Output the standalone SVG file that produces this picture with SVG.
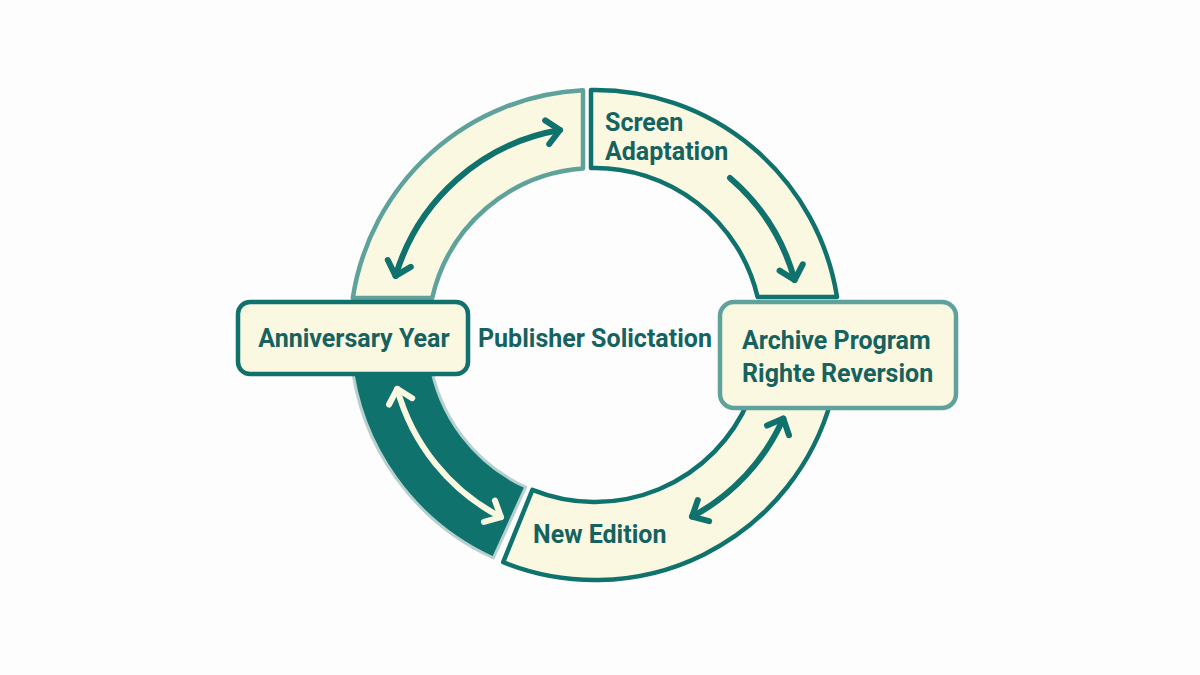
<svg xmlns="http://www.w3.org/2000/svg" width="1200" height="675" viewBox="0 0 1200 675">
  <style>
    .seg { fill: #fbf8e2; stroke-linejoin: round; }
    .dark { stroke: #0f726d; stroke-width: 4.5; }
    .light { stroke: #5fa29c; stroke-width: 4.5; }
    .lbl { font-family: Roboto, "Liberation Sans", sans-serif; font-weight: 700; font-size: 25px; fill: #15625e; }
    .arr { fill: none; stroke-width: 6; stroke-linecap: round; }
  </style>
  <defs>
    <marker id="hd" viewBox="-20 -15 25 30" refX="0" refY="0" markerWidth="25" markerHeight="30" markerUnits="userSpaceOnUse" orient="auto-start-reverse" overflow="visible">
      <path d="M -13 -12 L 0 0 L -13 12" fill="none" stroke="#0f726d" stroke-width="6" stroke-linecap="round" stroke-linejoin="round"/>
    </marker>
    <marker id="hc" viewBox="-20 -15 25 30" refX="0" refY="0" markerWidth="25" markerHeight="30" markerUnits="userSpaceOnUse" orient="auto-start-reverse" overflow="visible">
      <path d="M -13 -12 L 0 0 L -13 12" fill="none" stroke="#fbf8e2" stroke-width="6" stroke-linecap="round" stroke-linejoin="round"/>
    </marker>
  </defs>
  <rect width="1200" height="675" fill="#fdfdfd"/>

  <g id="seg-top-left">
    <path class="seg light" d="M 352.8 298 A 245 245 0 0 1 583 90.3 L 583 168.4 A 167 167 0 0 0 432.2 298 Z"/>
  </g>
  <g id="seg-screen-adaptation">
    <path class="seg dark" d="M 591 90 A 245 245 0 0 1 837 297 L 757.6 297 A 167 167 0 0 0 591 168 Z"/>
    <text class="lbl" x="605" y="131">Screen</text>
    <text class="lbl" x="605" y="160">Adaptation</text>
  </g>
  <g id="seg-new-edition">
    <path class="seg dark" d="M 831.2 400 A 245 245 0 0 1 503.2 562.2 L 532.4 489.8 A 167 167 0 0 0 748.8 400 Z"/>
    <text class="lbl" x="533" y="543">New Edition</text>
  </g>
  <g id="seg-dark">
    <path d="M 351.3 360 A 245 245 0 0 0 493.4 558 L 525.7 487 A 167 167 0 0 1 429.9 360 Z" fill="#0f726d" stroke="#b5d0ce" stroke-width="3" stroke-linejoin="round"/>
  </g>

  <g id="connectors">
    <path class="arr" stroke="#0f726d" d="M 395.6 275.9 A 208 208 0 0 1 560 130" marker-start="url(#hd)" marker-end="url(#hd)"/>
    <path class="arr" stroke="#0f726d" d="M 730 178 A 207 207 0 0 1 794.6 280" marker-end="url(#hd)"/>
    <path class="arr" stroke="#0f726d" d="M 692 516.7 A 206 206 0 0 0 783.3 418.5" marker-start="url(#hd)" marker-end="url(#hd)"/>
    <path class="arr" stroke="#fbf8e2" d="M 397.2 388.8 A 205 205 0 0 0 501 517.2" marker-start="url(#hc)" marker-end="url(#hc)"/>
  </g>

  <g id="node-anniversary">
    <rect x="238" y="302" width="230" height="72" rx="12" class="seg dark"/>
    <text class="lbl" x="354" y="347" text-anchor="middle">Anniversary Year</text>
  </g>
  <g id="node-publisher">
    <text class="lbl" x="478" y="347">Publisher Solictation</text>
  </g>
  <g id="node-archive">
    <rect x="720" y="302" width="236" height="106" rx="14" class="seg light"/>
    <text class="lbl" x="742" y="349">Archive Program</text>
    <text class="lbl" x="742" y="382">Righte Reversion</text>
  </g>
</svg>
